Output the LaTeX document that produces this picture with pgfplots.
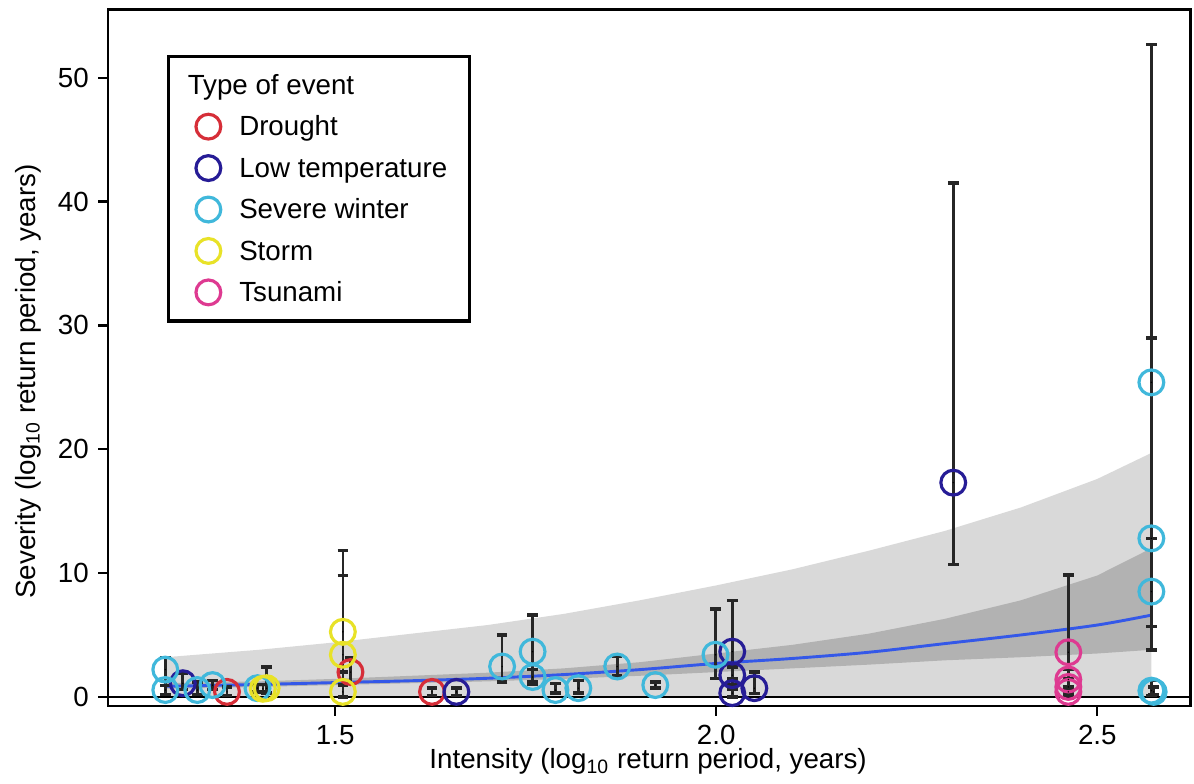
\documentclass[border=0pt]{standalone}
\usepackage{fontspec}
\setmainfont{Liberation Sans}
\usepackage{pgfplots}
\usepackage{pgfplotstable}
\pgfplotsset{compat=1.18}

\definecolor{drought}{RGB}{214,46,56}
\definecolor{lowtemp}{RGB}{38,28,150}
\definecolor{winter}{RGB}{64,184,219}
\definecolor{storm}{RGB}{232,226,40}
\definecolor{tsunami}{RGB}{222,58,145}
\definecolor{fitline}{RGB}{52,88,232}
\definecolor{bandlight}{RGB}{217,217,217}
\definecolor{banddark}{RGB}{178,178,178}

% x y lo hi  (lo/hi = ends of the error bar)
\pgfplotstableread{
x y lo hi
1.358 0.40 0.10 0.80
1.520 2.00 1.10 3.20
1.627 0.40 0.10 0.70
}\drought
\pgfplotstableread{
x y lo hi
1.300 1.10 0.60 1.90
1.659 0.40 0.10 0.70
2.021 3.65 1.50 7.80
2.021 1.75 1.00 2.40
2.021 0.30 0.00 0.60
2.050 0.70 0.25 2.00
2.311 17.30 10.70 41.50
}\lowtemp
\pgfplotstableread{
x y lo hi
1.277 2.20 0.90 3.20
1.277 0.55 0.20 0.90
1.319 0.55 0.20 1.20
1.339 0.95 0.60 1.30
1.398 0.70 0.40 1.00
1.719 2.45 1.20 5.00
1.759 3.65 1.20 6.60
1.759 1.60 1.00 2.20
1.789 0.55 0.30 1.10
1.819 0.70 0.30 1.30
1.870 2.45 1.70 3.30
1.920 0.95 0.70 1.20
1.999 3.40 1.50 7.10
2.571 25.40 3.80 52.70
2.571 12.80 5.70 29.00
2.571 8.50 5.70 12.80
2.571 0.50 0.10 1.30
2.574 0.40 0.20 0.80
}\winter
\pgfplotstableread{
x y lo hi
1.405 0.65 0.40 1.00
1.410 0.70 0.30 2.40
1.510 5.25 0.90 11.80
1.510 3.40 1.00 9.80
1.510 0.40 0.00 2.00
}\storm
\pgfplotstableread{
x y lo hi
2.462 3.60 0.70 9.85
2.462 1.40 0.80 2.20
2.462 0.80 0.40 1.50
2.462 0.40 0.10 0.80
}\tsunami

\pgfplotsset{
  circ/.style={only marks, mark=o, mark size=4.7pt, line width=1.2pt, color=#1},
  errs/.style={forget plot, only marks, mark=*, mark size=0.01pt,
    mark options={draw=none, fill=none},
    error bars/.cd, y dir=both, y explicit,
    error bar style={line width=1pt, black!85},
    error mark options={rotate=90, black!85, line width=1.3pt, mark size=2pt}},
}

\begin{document}
\begin{tikzpicture}
\begin{axis}[
  scale only axis, width=14.41cm, height=9.27cm,
  xmin=1.202, xmax=2.622, ymin=-0.73, ymax=55.5,
  axis line style={line width=1pt},
  tick pos=left, tick align=outside, major tick length=3.8pt,
  tick style={black, line width=0.9pt},
  xtick={1.5,2,2.5}, xticklabels={1.5,2.0,2.5},
  ytick={0,10,20,30,40,50},
  /pgf/number format/assume math mode=true,
  tick label style={font=\fontsize{10.5}{12}\selectfont},
  label style={font=\fontsize{10.5}{12}\selectfont},
  xlabel={Intensity (log\textsubscript{10} return period, years)},
  ylabel={Severity (log\textsubscript{10} return period, years)},
  xlabel style={at={(axis description cs:0.499,-0.080)}, anchor=center},
  ylabel style={at={(axis description cs:-0.074,0.466)}, anchor=center},
  legend cell align=left,
  legend style={at={(rel axis cs:0.0545,0.935)}, anchor=north west,
    draw=black, line width=1.2pt, font=\fontsize{10.5}{12}\selectfont,
    inner xsep=6.5pt, inner ysep=3pt, row sep=0pt,
    nodes={inner ysep=1.75pt, text height=9.6pt, text depth=2.6pt},
    /tikz/every odd column/.append style={column sep=5pt}},
]
% confidence bands
\addplot[forget plot, draw=none, fill=bandlight] coordinates {
  (1.277,3.2) (1.4,3.8) (1.5,4.4) (1.6,5.1) (1.7,5.8) (1.8,6.7) (1.9,7.8)
  (2.0,9.0) (2.1,10.3) (2.2,11.8) (2.3,13.4) (2.4,15.3) (2.5,17.6) (2.571,19.7)
  (2.571,0) (1.277,0)} -- cycle;
\addplot[forget plot, draw=none, fill=banddark] coordinates {
  (1.277,1.1) (1.4,1.25) (1.5,1.45) (1.6,1.7) (1.7,1.95) (1.8,2.3) (1.9,2.8)
  (2.0,3.5) (2.1,4.2) (2.2,5.1) (2.3,6.3) (2.4,7.8) (2.5,9.8) (2.571,12.0)
  (2.571,3.8) (2.5,3.5) (2.4,3.2) (2.3,2.95) (2.2,2.6) (2.1,2.3) (2.0,2.0)
  (1.9,1.7) (1.8,1.45) (1.7,1.25) (1.6,1.1) (1.5,0.95) (1.4,0.8) (1.277,0.65)} -- cycle;
\addplot[forget plot, fitline, line width=1.1pt, smooth] coordinates {
  (1.277,0.85) (1.4,1.0) (1.5,1.15) (1.6,1.3) (1.7,1.5) (1.8,1.8) (1.9,2.2)
  (2.0,2.7) (2.1,3.1) (2.2,3.6) (2.3,4.3) (2.4,5.0) (2.5,5.8) (2.571,6.6)};
\addplot[forget plot, black, line width=0.8pt] coordinates {(1.202,0) (2.622,0)};

\addlegendimage{empty legend}
\addlegendentry{\hspace*{-19.5pt}Type of event}
\addplot[circ=drought] table[x=x, y=y] \drought;
\addlegendentry{Drought}
\addplot[circ=lowtemp] table[x=x, y=y] \lowtemp;
\addlegendentry{Low temperature}
\addplot[circ=winter] table[x=x, y=y] \winter;
\addlegendentry{Severe winter}
\addplot[circ=storm] table[x=x, y=y] \storm;
\addlegendentry{Storm}
\addplot[circ=tsunami] table[x=x, y=y] \tsunami;
\addlegendentry{Tsunami}

% error bars on top of the circles
\addplot[errs] table[x=x, y=y, y error plus expr=\thisrow{hi}-\thisrow{y},
  y error minus expr=\thisrow{y}-\thisrow{lo}] \drought;
\addplot[errs] table[x=x, y=y, y error plus expr=\thisrow{hi}-\thisrow{y},
  y error minus expr=\thisrow{y}-\thisrow{lo}] \lowtemp;
\addplot[errs] table[x=x, y=y, y error plus expr=\thisrow{hi}-\thisrow{y},
  y error minus expr=\thisrow{y}-\thisrow{lo}] \winter;
\addplot[errs] table[x=x, y=y, y error plus expr=\thisrow{hi}-\thisrow{y},
  y error minus expr=\thisrow{y}-\thisrow{lo}] \storm;
\addplot[errs] table[x=x, y=y, y error plus expr=\thisrow{hi}-\thisrow{y},
  y error minus expr=\thisrow{y}-\thisrow{lo}] \tsunami;
\end{axis}
\path (-1.44cm,-0.99cm) rectangle (14.46cm,9.40cm);
\end{tikzpicture}
\end{document}
